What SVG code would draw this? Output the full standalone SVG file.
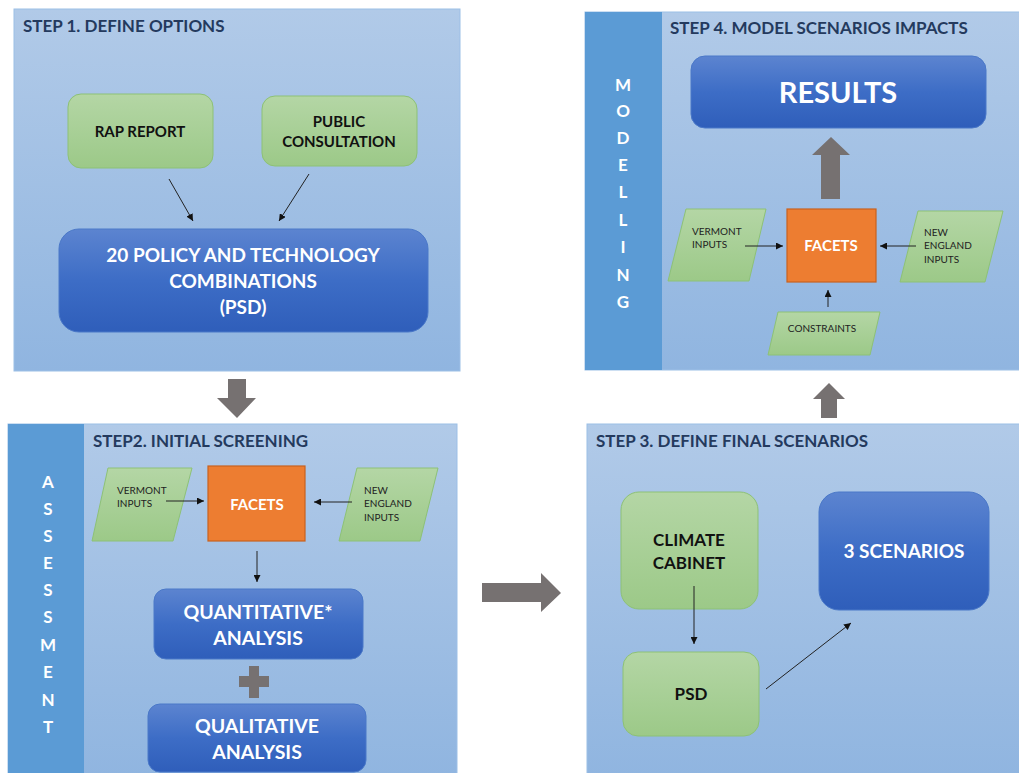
<svg xmlns="http://www.w3.org/2000/svg" width="1019" height="773" viewBox="0 0 1019 773">
  <defs>
    <linearGradient id="panelFill" x1="0" y1="0" x2="0" y2="1">
      <stop offset="0" stop-color="#B1CAE8"/>
      <stop offset="1" stop-color="#90B5E0"/>
    </linearGradient>
    <linearGradient id="blueFill" x1="0" y1="0" x2="0" y2="1">
      <stop offset="0" stop-color="#5C84D0"/>
      <stop offset="0.5" stop-color="#3D6DC6"/>
      <stop offset="1" stop-color="#2F5EBA"/>
    </linearGradient>
    <linearGradient id="greenFill" x1="0" y1="0" x2="0" y2="1">
      <stop offset="0" stop-color="#B4D6A5"/>
      <stop offset="1" stop-color="#9CC988"/>
    </linearGradient>
    <marker id="tri" viewBox="0 0 10 10" refX="10" refY="5" markerWidth="7" markerHeight="7" orient="auto" markerUnits="userSpaceOnUse">
      <path d="M0,0 L10,5 L0,10 Z" fill="#111"/>
    </marker>
    <style>
      .panel { fill: url(#panelFill); stroke: #9CBFE6; stroke-width: 1; }
      .side { fill: #5B9BD5; }
      .title { font-family: Lato, "Open Sans", sans-serif; font-weight: bold; font-size: 17px; fill: #243A5E; }
      .sideTxt { font-family: Lato, "Open Sans", sans-serif; font-weight: bold; font-size: 17px; fill: #FFFFFF; text-anchor: middle; }
      .blue { fill: url(#blueFill); stroke: #4A78C8; stroke-width: 1; }
      .green { fill: url(#greenFill); stroke: #8DC176; stroke-width: 1; }
      .orange { fill: #ED7D31; stroke: #C9611E; stroke-width: 1.2; }
      .bigTxt { font-family: Lato, "Open Sans", sans-serif; font-weight: bold; fill: #FFFFFF; text-anchor: middle; }
      .grnTxt { font-family: Lato, "Open Sans", sans-serif; font-weight: bold; fill: #111111; text-anchor: middle; }
      .smallTxt { font-family: Lato, "Open Sans", sans-serif; font-size: 10px; fill: #222222; }
      .conn { stroke: #222; stroke-width: 1; fill: none; marker-end: url(#tri); }
      .fat { fill: #767171; }
    </style>
  </defs>

  <rect width="1019" height="773" fill="#FFFFFF"/>

  <!-- Step 1 panel -->
  <g id="step1">
    <rect class="panel" x="14" y="9" width="446" height="362"/>
    <text class="title" x="23" y="32">STEP 1. DEFINE OPTIONS</text>
  </g>
  <g id="rap-report">
    <rect class="green" x="68" y="94" width="145" height="74" rx="13"/>
    <text class="grnTxt" x="140" y="137" font-size="15">RAP REPORT</text>
  </g>
  <g id="public-consultation">
    <rect class="green" x="262" y="96" width="155" height="70" rx="13"/>
    <text class="grnTxt" x="339" y="127" font-size="15">PUBLIC</text>
    <text class="grnTxt" x="339" y="147" font-size="15">CONSULTATION</text>
  </g>
  <g id="policy-combinations">
    <rect class="blue" x="59" y="229" width="369" height="103" rx="20"/>
    <text class="bigTxt" x="243" y="262" font-size="19">20 POLICY AND TECHNOLOGY</text>
    <text class="bigTxt" x="243" y="288" font-size="19">COMBINATIONS</text>
    <text class="bigTxt" x="243" y="314" font-size="19">(PSD)</text>
  </g>

  <!-- Step 2 panel -->
  <g id="step2">
    <rect class="panel" x="8" y="424" width="449" height="352"/>
    <rect class="side" x="8" y="424" width="76" height="352"/>
    <text class="sideTxt" x="48" y="488">A</text>
    <text class="sideTxt" x="48" y="515">S</text>
    <text class="sideTxt" x="48" y="542">S</text>
    <text class="sideTxt" x="48" y="569">E</text>
    <text class="sideTxt" x="48" y="596">S</text>
    <text class="sideTxt" x="48" y="623">S</text>
    <text class="sideTxt" x="48" y="651">M</text>
    <text class="sideTxt" x="48" y="678">E</text>
    <text class="sideTxt" x="48" y="706">N</text>
    <text class="sideTxt" x="48" y="733">T</text>
    <text class="title" x="93" y="447">STEP2. INITIAL SCREENING</text>
  </g>
  <g id="vermont-inputs-2">
    <polygon class="green" points="108,468 192,468 173,541 92,541"/>
    <text class="smallTxt" x="117" y="494">VERMONT</text>
    <text class="smallTxt" x="117" y="507">INPUTS</text>
  </g>
  <g id="facets-2">
    <rect class="orange" x="208" y="466" width="97" height="75"/>
    <text class="bigTxt" x="257" y="510" font-size="15">FACETS</text>
  </g>
  <g id="new-england-inputs-2">
    <polygon class="green" points="357,468 438,468 420,541 339,541"/>
    <text class="smallTxt" x="364" y="494">NEW</text>
    <text class="smallTxt" x="364" y="507">ENGLAND</text>
    <text class="smallTxt" x="364" y="521">INPUTS</text>
  </g>
  <g id="quantitative-analysis">
    <rect class="blue" x="154" y="589" width="209" height="70" rx="12"/>
    <text class="bigTxt" x="258" y="619" font-size="19.5">QUANTITATIVE*</text>
    <text class="bigTxt" x="258" y="645" font-size="19.5">ANALYSIS</text>
  </g>
  <g id="plus-sign">
    <rect class="fat" x="239" y="676" width="30" height="11"/>
    <rect class="fat" x="249" y="666" width="10" height="32"/>
  </g>
  <g id="qualitative-analysis">
    <rect class="blue" x="148" y="704" width="218" height="68" rx="12"/>
    <text class="bigTxt" x="257" y="733" font-size="19.5">QUALITATIVE</text>
    <text class="bigTxt" x="257" y="759" font-size="19.5">ANALYSIS</text>
  </g>

  <!-- Step 3 panel -->
  <g id="step3">
    <rect class="panel" x="587" y="424" width="436" height="352"/>
    <text class="title" x="596" y="447">STEP 3. DEFINE FINAL SCENARIOS</text>
  </g>
  <g id="climate-cabinet">
    <rect class="green" x="621" y="492" width="137" height="117" rx="18"/>
    <text class="grnTxt" x="689" y="546" font-size="17">CLIMATE</text>
    <text class="grnTxt" x="689" y="569" font-size="17">CABINET</text>
  </g>
  <g id="psd">
    <rect class="green" x="623" y="652" width="136" height="84" rx="15"/>
    <text class="grnTxt" x="691" y="700" font-size="17">PSD</text>
  </g>
  <g id="three-scenarios">
    <rect class="blue" x="819" y="492" width="170" height="118" rx="20"/>
    <text class="bigTxt" x="904" y="558" font-size="19">3 SCENARIOS</text>
  </g>

  <!-- Step 4 panel -->
  <g id="step4">
    <rect class="panel" x="585" y="12" width="438" height="358"/>
    <rect class="side" x="585" y="12" width="77" height="358"/>
    <text class="sideTxt" x="623" y="91">M</text>
    <text class="sideTxt" x="623" y="117">O</text>
    <text class="sideTxt" x="623" y="144">D</text>
    <text class="sideTxt" x="623" y="171">E</text>
    <text class="sideTxt" x="623" y="198">L</text>
    <text class="sideTxt" x="623" y="226">L</text>
    <text class="sideTxt" x="623" y="253">I</text>
    <text class="sideTxt" x="623" y="281">N</text>
    <text class="sideTxt" x="623" y="308">G</text>
    <text class="title" x="670" y="34">STEP 4. MODEL SCENARIOS IMPACTS</text>
  </g>
  <g id="results">
    <rect class="blue" x="691" y="56" width="295" height="72" rx="14"/>
    <text class="bigTxt" x="838" y="103" font-size="29">RESULTS</text>
  </g>
  <g id="vermont-inputs-4">
    <polygon class="green" points="686,209 766,209 749,281 668,281"/>
    <text class="smallTxt" x="692" y="235">VERMONT</text>
    <text class="smallTxt" x="692" y="248">INPUTS</text>
  </g>
  <g id="facets-4">
    <rect class="orange" x="787" y="209" width="89" height="73"/>
    <text class="bigTxt" x="831" y="251" font-size="15">FACETS</text>
  </g>
  <g id="new-england-inputs-4">
    <polygon class="green" points="918,211 1003,211 985,282 900,282"/>
    <text class="smallTxt" x="924" y="236">NEW</text>
    <text class="smallTxt" x="924" y="249">ENGLAND</text>
    <text class="smallTxt" x="924" y="263">INPUTS</text>
  </g>
  <g id="constraints">
    <polygon class="green" points="778,312 880,312 870,355 768,355"/>
    <text class="smallTxt" x="822" y="332" text-anchor="middle">CONSTRAINTS</text>
  </g>

  <!-- Connectors -->
  <g id="connectors">
    <line class="conn" x1="169" y1="179" x2="193" y2="221"/>
    <line class="conn" x1="309" y1="174" x2="279" y2="221"/>
    <line class="conn" x1="166" y1="501" x2="204" y2="501"/>
    <line class="conn" x1="352" y1="502" x2="314" y2="502"/>
    <line class="conn" x1="257" y1="551" x2="257" y2="582"/>
    <line class="conn" x1="694" y1="586" x2="694" y2="644"/>
    <line class="conn" x1="766" y1="689" x2="851" y2="623"/>
    <line class="conn" x1="745" y1="246" x2="783" y2="246"/>
    <line class="conn" x1="916" y1="246" x2="880" y2="246"/>
    <line class="conn" x1="828" y1="307" x2="828" y2="290"/>
    <!-- block arrows between steps -->
    <polygon class="fat" points="228,379 246,379 246,398 256,398 237,418 217,398 228,398"/>
    <polygon class="fat" points="482,583 541,583 541,573 561,593 541,612 541,602 482,602"/>
    <polygon class="fat" points="829,383 845,399 837,399 837,418 821,418 821,399 813,399"/>
    <polygon class="fat" points="831,137 850,155 840,155 840,199 821,199 821,155 812,155"/>
  </g>
</svg>
